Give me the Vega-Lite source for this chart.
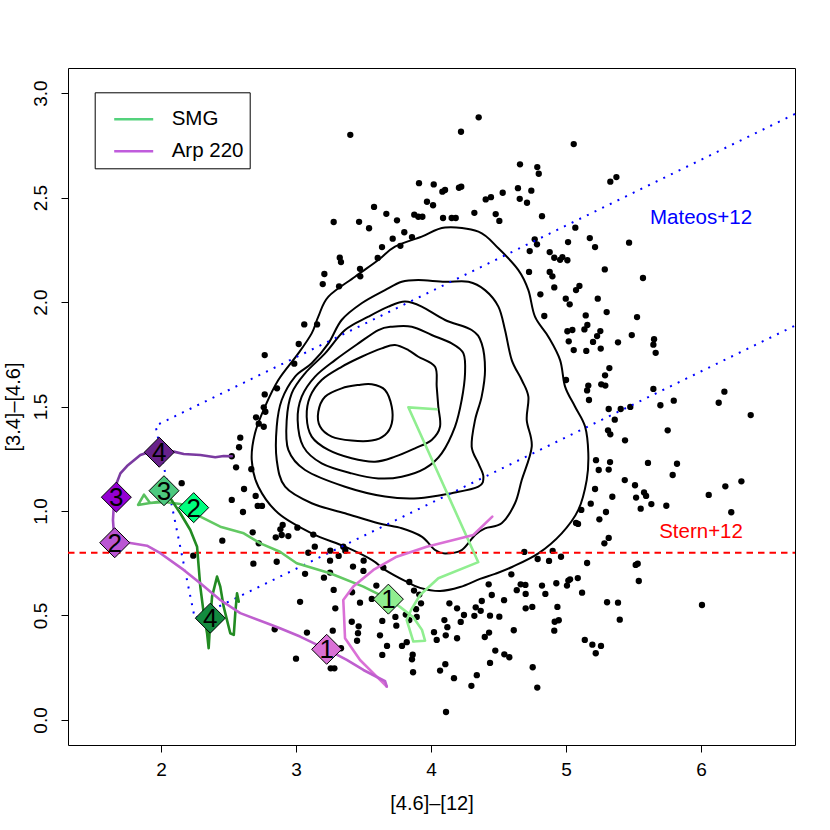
{
"$schema": "https://vega.github.io/schema/vega-lite/v6.json",
"width": 727, "height": 677,
"autosize": {"type": "none"},
"padding": {"left": 68, "top": 68, "right": 35, "bottom": 85},
"background": "white",
"config": {
 "view": {"stroke": "black", "strokeWidth": 1},
 "font": "Liberation Sans",
 "axis": {"domain": false, "grid": false, "tickColor": "black", "tickSize": 7, "tickWidth": 1, "labelColor": "black", "labelFont": "Liberation Sans", "labelFontSize": 19, "titleFont": "Liberation Sans", "titleFontSize": 20, "titleFontWeight": "normal", "titleColor": "black", "labelFlush": false, "labelOverlap": false},
 "legend": {"orient": "none", "legendX": 26.7, "legendY": 24.3, "padding": 6, "strokeColor": "black", "fillColor": "white", "symbolType": "stroke", "symbolSize": 1521, "symbolStrokeWidth": 2.5, "symbolOffset": 12, "labelFontSize": 20.5, "labelColor": "black", "labelFont": "Liberation Sans", "rowPadding": -14, "labelOffset": 17, "cornerRadius": 0}
},
"datasets": {
 "pts": [
{"x":3.402,"y":2.800},{"x":4.222,"y":2.815},{"x":4.353,"y":2.884},{"x":5.057,"y":2.756},{"x":4.659,"y":2.659},{"x":4.787,"y":2.646},{"x":4.798,"y":2.614},{"x":3.911,"y":2.569},{"x":4.020,"y":2.563},{"x":4.084,"y":2.528},{"x":4.104,"y":2.536},{"x":4.207,"y":2.547},{"x":4.224,"y":2.552},{"x":4.644,"y":2.545},{"x":4.743,"y":2.533},{"x":4.531,"y":2.523},{"x":4.405,"y":2.491},{"x":4.444,"y":2.502},{"x":4.657,"y":2.494},{"x":4.711,"y":2.475},{"x":3.970,"y":2.480},{"x":4.015,"y":2.463},{"x":3.578,"y":2.455},{"x":3.669,"y":2.422},{"x":3.876,"y":2.418},{"x":3.906,"y":2.408},{"x":3.936,"y":2.408},{"x":4.089,"y":2.402},{"x":4.153,"y":2.402},{"x":4.183,"y":2.402},{"x":4.321,"y":2.427},{"x":4.479,"y":2.421},{"x":4.506,"y":2.388},{"x":4.822,"y":2.411},{"x":3.748,"y":2.391},{"x":3.467,"y":2.384},{"x":3.279,"y":2.383},{"x":3.541,"y":2.353},{"x":3.802,"y":2.334},{"x":3.859,"y":2.311},{"x":3.716,"y":2.303},{"x":3.773,"y":2.269},{"x":3.637,"y":2.263},{"x":5.069,"y":2.356},{"x":5.176,"y":2.306},{"x":5.215,"y":2.263},{"x":4.768,"y":2.300},{"x":4.785,"y":2.276},{"x":5.015,"y":2.287},{"x":4.731,"y":2.244},{"x":4.879,"y":2.239},{"x":4.913,"y":2.212},{"x":4.973,"y":2.215},{"x":4.956,"y":2.202},{"x":5.010,"y":2.200},{"x":3.324,"y":2.212},{"x":3.333,"y":2.191},{"x":3.605,"y":2.211},{"x":3.474,"y":2.159},{"x":3.476,"y":2.123},{"x":3.210,"y":2.134},{"x":3.198,"y":2.086},{"x":3.319,"y":2.075},{"x":4.726,"y":2.144},{"x":4.879,"y":2.144},{"x":4.899,"y":2.123},{"x":4.913,"y":2.070},{"x":4.810,"y":2.037},{"x":4.998,"y":2.016},{"x":5.099,"y":2.077},{"x":5.074,"y":2.057},{"x":5.235,"y":2.016},
{"x":3.061,"y":1.893},{"x":3.156,"y":1.893},{"x":3.020,"y":1.799},{"x":2.768,"y":1.746},{"x":2.987,"y":1.705},{"x":5.373,"y":2.598},{"x":5.328,"y":2.576},{"x":5.467,"y":2.284},{"x":5.287,"y":2.156},{"x":5.570,"y":2.115},{"x":4.839,"y":1.933},
{"x":5.027,"y":1.989},{"x":5.301,"y":1.952},{"x":5.146,"y":1.936},{"x":5.526,"y":1.928},{"x":5.158,"y":1.890},{"x":5.136,"y":1.869},{"x":5.010,"y":1.860},{"x":5.047,"y":1.866},{"x":5.254,"y":1.861},{"x":5.230,"y":1.837},{"x":5.487,"y":1.842},{"x":5.020,"y":1.812},{"x":5.200,"y":1.809},{"x":5.385,"y":1.807},{"x":5.652,"y":1.822},{"x":5.647,"y":1.796},{"x":5.057,"y":1.770},{"x":5.150,"y":1.766},{"x":5.257,"y":1.777},{"x":5.664,"y":1.757},{"x":5.321,"y":1.684},{"x":5.289,"y":1.649},{"x":5.000,"y":1.627},{"x":5.165,"y":1.600},{"x":5.156,"y":1.577},{"x":5.261,"y":1.606},{"x":5.291,"y":1.600},{"x":5.170,"y":1.531},{"x":5.647,"y":1.584},{"x":6.173,"y":1.571},{"x":6.131,"y":1.518},{"x":5.798,"y":1.528},{"x":5.699,"y":1.506},{"x":5.316,"y":1.488},{"x":5.405,"y":1.488},{"x":5.476,"y":1.498},{"x":5.361,"y":1.437},{"x":6.368,"y":1.459},{"x":5.311,"y":1.386},{"x":5.328,"y":1.367},{"x":5.753,"y":1.386},{"x":5.437,"y":1.338},{"x":5.222,"y":1.243},{"x":5.326,"y":1.234},{"x":5.242,"y":1.196},{"x":5.316,"y":1.198},{"x":5.607,"y":1.230},{"x":5.822,"y":1.226},{"x":5.790,"y":1.172},{"x":5.435,"y":1.148},{"x":5.511,"y":1.123},{"x":6.180,"y":1.118},{"x":6.299,"y":1.142},{"x":6.057,"y":1.077},{"x":5.215,"y":1.105},{"x":5.343,"y":1.068},{"x":5.519,"y":1.064},{"x":5.578,"y":1.089},{"x":5.593,"y":1.072},{"x":5.183,"y":1.035},{"x":5.632,"y":1.033},{"x":5.743,"y":1.025},{"x":5.113,"y":1.005},{"x":5.296,"y":0.995},{"x":5.553,"y":1.011},{"x":6.224,"y":0.994},{"x":5.247,"y":0.960},
{"x":5.074,"y":0.943},{"x":5.089,"y":0.938},{"x":5.316,"y":0.871},{"x":5.284,"y":0.845},{"x":4.901,"y":0.809},{"x":4.691,"y":0.804},{"x":4.790,"y":0.770},{"x":4.874,"y":0.761},{"x":4.963,"y":0.781},{"x":5.156,"y":0.751},{"x":5.516,"y":0.742},{"x":5.531,"y":0.748},{"x":5.539,"y":0.665},{"x":4.595,"y":0.697},{"x":4.427,"y":0.649},{"x":4.664,"y":0.649},{"x":4.699,"y":0.646},{"x":4.635,"y":0.621},{"x":4.701,"y":0.603},{"x":4.822,"y":0.643},{"x":4.847,"y":0.603},{"x":4.928,"y":0.654},{"x":5.017,"y":0.667},{"x":5.030,"y":0.673},{"x":5.007,"y":0.643},{"x":5.087,"y":0.679},{"x":5.119,"y":0.609},{"x":4.450,"y":0.598},{"x":4.376,"y":0.569},{"x":4.541,"y":0.573},{"x":4.368,"y":0.522},{"x":4.437,"y":0.499},{"x":4.506,"y":0.494},{"x":4.701,"y":0.534},{"x":4.750,"y":0.541},{"x":4.936,"y":0.541},{"x":5.304,"y":0.563},{"x":5.385,"y":0.561},{"x":5.398,"y":0.480},{"x":6.007,"y":0.550},{"x":4.916,"y":0.470},{"x":4.946,"y":0.477},{"x":4.913,"y":0.427},{"x":4.613,"y":0.429},{"x":4.430,"y":0.418},{"x":4.398,"y":0.397},{"x":5.139,"y":0.383},{"x":5.195,"y":0.360},{"x":5.259,"y":0.354},{"x":5.220,"y":0.319},{"x":4.476,"y":0.332},{"x":4.543,"y":0.314},{"x":4.580,"y":0.300},{"x":4.437,"y":0.273},{"x":4.753,"y":0.252},{"x":4.787,"y":0.155},
{"x":2.901,"y":0.933},{"x":2.894,"y":0.885},{"x":2.943,"y":0.880},{"x":3.010,"y":0.920},{"x":3.128,"y":0.887},{"x":3.139,"y":0.829},{"x":3.091,"y":0.800},{"x":3.254,"y":0.810},{"x":3.350,"y":0.829},{"x":3.365,"y":0.810},{"x":3.316,"y":0.785},{"x":3.252,"y":0.762},{"x":3.422,"y":0.734},{"x":3.501,"y":0.762},{"x":3.499,"y":0.713},{"x":3.647,"y":0.729},{"x":3.067,"y":0.699},{"x":3.207,"y":0.681},{"x":3.252,"y":0.705},{"x":3.279,"y":0.622},{"x":3.030,"y":0.565},{"x":3.291,"y":0.534},{"x":3.474,"y":0.561},{"x":3.415,"y":0.611},{"x":3.561,"y":0.579},{"x":3.595,"y":0.643},{"x":3.839,"y":0.660},{"x":3.874,"y":0.619},{"x":3.913,"y":0.600},{"x":3.926,"y":0.558},{"x":3.889,"y":0.530},{"x":3.894,"y":0.493},{"x":3.839,"y":0.478},{"x":3.813,"y":0.504},{"x":3.736,"y":0.493},{"x":3.743,"y":0.451},{"x":3.639,"y":0.474},{"x":3.413,"y":0.470},{"x":3.464,"y":0.448},{"x":3.459,"y":0.415},{"x":3.452,"y":0.379},{"x":3.622,"y":0.405},{"x":3.674,"y":0.354},{"x":3.639,"y":0.311},{"x":3.785,"y":0.354},{"x":3.820,"y":0.372},{"x":3.864,"y":0.312},{"x":3.859,"y":0.290},{"x":3.867,"y":0.228},{"x":3.272,"y":0.427},{"x":3.081,"y":0.418},{"x":3.333,"y":0.343},{"x":3.000,"y":0.293},{"x":3.257,"y":0.247},{"x":3.284,"y":0.247},{"x":4.022,"y":0.420},{"x":4.042,"y":0.383},{"x":4.099,"y":0.478},{"x":4.109,"y":0.405},{"x":4.121,"y":0.444},{"x":4.193,"y":0.391},{"x":4.136,"y":0.558},{"x":4.193,"y":0.534},{"x":4.244,"y":0.502},{"x":4.220,"y":0.469},{"x":4.321,"y":0.498},{"x":4.331,"y":0.539},{"x":4.339,"y":0.214},{"x":4.299,"y":0.163},{"x":4.170,"y":0.200},{"x":4.106,"y":0.267},{"x":4.067,"y":0.236},{"x":4.111,"y":0.038},
{"x":2.768,"y":1.558},{"x":2.859,"y":1.587},{"x":2.761,"y":1.496},{"x":2.773,"y":1.475},{"x":2.704,"y":1.448},{"x":2.724,"y":1.418},{"x":2.761,"y":1.403},{"x":2.587,"y":1.351},{"x":2.578,"y":1.305},{"x":2.524,"y":1.262},{"x":2.556,"y":1.209},{"x":2.669,"y":1.200},{"x":2.153,"y":1.133},{"x":2.615,"y":1.105},{"x":2.701,"y":1.072},{"x":2.524,"y":1.053},{"x":2.716,"y":1.024},{"x":2.748,"y":1.024},{"x":2.607,"y":0.995},{"x":2.884,"y":0.912},{"x":2.679,"y":0.898},{"x":2.850,"y":0.874},{"x":2.454,"y":0.858},{"x":2.724,"y":0.845},{"x":2.239,"y":0.786},{"x":2.684,"y":0.748},{"x":2.857,"y":0.757},{"x":2.842,"y":0.434}
 ],
 "contours": [
{"c":1,"i":0,"x":4.104,"y":2.357},{"c":1,"i":1,"x":4.351,"y":2.337},{"c":1,"i":2,"x":4.499,"y":2.257},{"c":1,"i":3,"x":4.647,"y":2.153},{"c":1,"i":4,"x":4.721,"y":2.057},{"c":1,"i":5,"x":4.770,"y":1.930},{"c":1,"i":6,"x":4.869,"y":1.834},{"c":1,"i":7,"x":4.956,"y":1.722},{"c":1,"i":8,"x":4.993,"y":1.595},{"c":1,"i":9,"x":5.067,"y":1.499},{"c":1,"i":10,"x":5.141,"y":1.404},{"c":1,"i":11,"x":5.165,"y":1.276},{"c":1,"i":12,"x":5.153,"y":1.148},{"c":1,"i":13,"x":5.091,"y":1.005},{"c":1,"i":14,"x":4.968,"y":0.893},{"c":1,"i":15,"x":4.795,"y":0.797},{"c":1,"i":16,"x":4.600,"y":0.732},{"c":1,"i":17,"x":4.474,"y":0.699},{"c":1,"i":18,"x":4.363,"y":0.675},{"c":1,"i":19,"x":4.215,"y":0.636},{"c":1,"i":20,"x":4.067,"y":0.617},{"c":1,"i":21,"x":3.919,"y":0.632},{"c":1,"i":22,"x":3.807,"y":0.665},{"c":1,"i":23,"x":3.659,"y":0.718},{"c":1,"i":24,"x":3.561,"y":0.766},{"c":1,"i":25,"x":3.363,"y":0.829},{"c":1,"i":26,"x":3.116,"y":0.893},{"c":1,"i":27,"x":2.869,"y":0.989},{"c":1,"i":28,"x":2.721,"y":1.116},{"c":1,"i":29,"x":2.672,"y":1.244},{"c":1,"i":30,"x":2.696,"y":1.372},{"c":1,"i":31,"x":2.770,"y":1.499},{"c":1,"i":32,"x":2.869,"y":1.627},{"c":1,"i":33,"x":3.017,"y":1.754},{"c":1,"i":34,"x":3.116,"y":1.850},{"c":1,"i":35,"x":3.165,"y":1.930},{"c":1,"i":36,"x":3.240,"y":2.026},{"c":1,"i":37,"x":3.437,"y":2.121},{"c":1,"i":38,"x":3.610,"y":2.201},{"c":1,"i":39,"x":3.733,"y":2.265},{"c":1,"i":40,"x":3.931,"y":2.313},
{"c":2,"i":0,"x":3.783,"y":2.097},{"c":2,"i":1,"x":3.906,"y":2.105},{"c":2,"i":2,"x":4.104,"y":2.097},{"c":2,"i":3,"x":4.277,"y":2.097},{"c":2,"i":4,"x":4.400,"y":2.057},{"c":2,"i":5,"x":4.499,"y":1.978},{"c":2,"i":6,"x":4.548,"y":1.866},{"c":2,"i":7,"x":4.598,"y":1.722},{"c":2,"i":8,"x":4.672,"y":1.627},{"c":2,"i":9,"x":4.721,"y":1.547},{"c":2,"i":10,"x":4.709,"y":1.435},{"c":2,"i":11,"x":4.746,"y":1.308},{"c":2,"i":12,"x":4.672,"y":1.148},{"c":2,"i":13,"x":4.622,"y":1.037},{"c":2,"i":14,"x":4.523,"y":0.941},{"c":2,"i":15,"x":4.400,"y":0.917},{"c":2,"i":16,"x":4.326,"y":0.885},{"c":2,"i":17,"x":4.227,"y":0.813},{"c":2,"i":18,"x":4.104,"y":0.797},{"c":2,"i":19,"x":4.030,"y":0.813},{"c":2,"i":20,"x":3.931,"y":0.877},{"c":2,"i":21,"x":3.783,"y":0.917},{"c":2,"i":22,"x":3.610,"y":0.941},{"c":2,"i":23,"x":3.363,"y":0.989},{"c":2,"i":24,"x":3.116,"y":1.037},{"c":2,"i":25,"x":2.919,"y":1.116},{"c":2,"i":26,"x":2.857,"y":1.244},{"c":2,"i":27,"x":2.857,"y":1.404},{"c":2,"i":28,"x":2.894,"y":1.531},{"c":2,"i":29,"x":2.993,"y":1.643},{"c":2,"i":30,"x":3.116,"y":1.707},{"c":2,"i":31,"x":3.240,"y":1.802},{"c":2,"i":32,"x":3.338,"y":1.914},{"c":2,"i":33,"x":3.486,"y":1.994},{"c":2,"i":34,"x":3.659,"y":2.057},
{"c":3,"i":0,"x":3.807,"y":2.002},{"c":3,"i":1,"x":3.931,"y":1.978},{"c":3,"i":2,"x":4.104,"y":1.914},{"c":3,"i":3,"x":4.301,"y":1.866},{"c":3,"i":4,"x":4.375,"y":1.802},{"c":3,"i":5,"x":4.400,"y":1.675},{"c":3,"i":6,"x":4.375,"y":1.547},{"c":3,"i":7,"x":4.326,"y":1.435},{"c":3,"i":8,"x":4.301,"y":1.308},{"c":3,"i":9,"x":4.351,"y":1.228},{"c":3,"i":10,"x":4.388,"y":1.164},{"c":3,"i":11,"x":4.351,"y":1.116},{"c":3,"i":12,"x":4.153,"y":1.085},{"c":3,"i":13,"x":3.906,"y":1.061},{"c":3,"i":14,"x":3.659,"y":1.069},{"c":3,"i":15,"x":3.363,"y":1.116},{"c":3,"i":16,"x":3.067,"y":1.196},{"c":3,"i":17,"x":2.943,"y":1.292},{"c":3,"i":18,"x":2.931,"y":1.435},{"c":3,"i":19,"x":2.968,"y":1.563},{"c":3,"i":20,"x":3.067,"y":1.659},{"c":3,"i":21,"x":3.215,"y":1.754},{"c":3,"i":22,"x":3.363,"y":1.866},{"c":3,"i":23,"x":3.536,"y":1.930},{"c":3,"i":24,"x":3.684,"y":1.978},
{"c":4,"i":0,"x":3.709,"y":1.882},{"c":4,"i":1,"x":3.857,"y":1.882},{"c":4,"i":2,"x":4.005,"y":1.842},{"c":4,"i":3,"x":4.153,"y":1.802},{"c":4,"i":4,"x":4.240,"y":1.754},{"c":4,"i":5,"x":4.252,"y":1.659},{"c":4,"i":6,"x":4.227,"y":1.531},{"c":4,"i":7,"x":4.178,"y":1.404},{"c":4,"i":8,"x":4.079,"y":1.276},{"c":4,"i":9,"x":3.956,"y":1.204},{"c":4,"i":10,"x":3.783,"y":1.164},{"c":4,"i":11,"x":3.610,"y":1.156},{"c":4,"i":12,"x":3.412,"y":1.180},{"c":4,"i":13,"x":3.190,"y":1.228},{"c":4,"i":14,"x":3.054,"y":1.308},{"c":4,"i":15,"x":3.012,"y":1.435},{"c":4,"i":16,"x":3.042,"y":1.547},{"c":4,"i":17,"x":3.141,"y":1.643},{"c":4,"i":18,"x":3.289,"y":1.722},{"c":4,"i":19,"x":3.462,"y":1.802},{"c":4,"i":20,"x":3.610,"y":1.866},
{"c":5,"i":0,"x":3.733,"y":1.794},{"c":5,"i":1,"x":3.832,"y":1.770},{"c":5,"i":2,"x":3.906,"y":1.738},{"c":5,"i":3,"x":4.030,"y":1.690},{"c":5,"i":4,"x":4.042,"y":1.595},{"c":5,"i":5,"x":4.054,"y":1.499},{"c":5,"i":6,"x":4.067,"y":1.404},{"c":5,"i":7,"x":4.005,"y":1.340},{"c":5,"i":8,"x":3.881,"y":1.300},{"c":5,"i":9,"x":3.733,"y":1.260},{"c":5,"i":10,"x":3.585,"y":1.236},{"c":5,"i":11,"x":3.412,"y":1.252},{"c":5,"i":12,"x":3.240,"y":1.292},{"c":5,"i":13,"x":3.116,"y":1.356},{"c":5,"i":14,"x":3.079,"y":1.451},{"c":5,"i":15,"x":3.104,"y":1.547},{"c":5,"i":16,"x":3.190,"y":1.627},{"c":5,"i":17,"x":3.338,"y":1.690},{"c":5,"i":18,"x":3.486,"y":1.738},{"c":5,"i":19,"x":3.635,"y":1.778},
{"c":6,"i":0,"x":3.561,"y":1.606},{"c":6,"i":1,"x":3.659,"y":1.579},{"c":6,"i":2,"x":3.709,"y":1.499},{"c":6,"i":3,"x":3.709,"y":1.419},{"c":6,"i":4,"x":3.659,"y":1.364},{"c":6,"i":5,"x":3.561,"y":1.337},{"c":6,"i":6,"x":3.412,"y":1.337},{"c":6,"i":7,"x":3.264,"y":1.356},{"c":6,"i":8,"x":3.178,"y":1.404},{"c":6,"i":9,"x":3.165,"y":1.475},{"c":6,"i":10,"x":3.215,"y":1.547},{"c":6,"i":11,"x":3.338,"y":1.587},{"c":6,"i":12,"x":3.462,"y":1.603}
 ],
 "mateos": [
{"i":0,"x":6.696,"y":2.900},{"i":1,"x":1.9596,"y":1.408},{"i":2,"x":2.250,"y":0.487},{"i":3,"x":6.696,"y":1.887}
 ],
 "stern": [{"x":1.311,"y":0.8},{"x":6.696,"y":0.8}],
 "tracks": [
{"seg":"SMG-a","i":0,"x":4.042,"y":1.487},{"seg":"SMG-a","i":1,"x":3.832,"y":1.496},{"seg":"SMG-a","i":2,"x":4.350,"y":0.755},{"seg":"SMG-a","i":3,"x":4.054,"y":0.678},{"seg":"SMG-a","i":4,"x":3.919,"y":0.598},{"seg":"SMG-a","i":5,"x":3.852,"y":0.526},{"seg":"SMG-a","i":6,"x":3.820,"y":0.478},{"seg":"SMG-a","i":7,"x":3.869,"y":0.375},{"seg":"SMG-a","i":8,"x":3.956,"y":0.379},{"seg":"SMG-a","i":9,"x":3.933,"y":0.431},{"seg":"SMG-a","i":10,"x":3.867,"y":0.493},{"seg":"SMG-a","i":11,"x":3.770,"y":0.541},{"seg":"SMG-a","i":12,"x":3.684,"y":0.578},
{"seg":"SMG-b","i":0,"x":3.684,"y":0.578},{"seg":"SMG-b","i":1,"x":3.499,"y":0.638},{"seg":"SMG-b","i":2,"x":3.252,"y":0.702},{"seg":"SMG-b","i":3,"x":3.005,"y":0.750},{"seg":"SMG-b","i":4,"x":2.881,"y":0.805},{"seg":"SMG-b","i":5,"x":2.736,"y":0.845},{"seg":"SMG-b","i":6,"x":2.613,"y":0.893},{"seg":"SMG-b","i":7,"x":2.439,"y":0.925},{"seg":"SMG-b","i":8,"x":2.291,"y":0.973},{"seg":"SMG-b","i":9,"x":2.242,"y":1.016},
{"seg":"SMG-c","i":0,"x":2.242,"y":1.016},{"seg":"SMG-c","i":1,"x":2.141,"y":1.033},{"seg":"SMG-c","i":2,"x":2.030,"y":1.043},{"seg":"SMG-c","i":3,"x":1.919,"y":1.038},{"seg":"SMG-c","i":4,"x":1.830,"y":1.029},{"seg":"SMG-c","i":5,"x":1.874,"y":1.078},{"seg":"SMG-c","i":6,"x":1.919,"y":1.038},{"seg":"SMG-c","i":7,"x":2.022,"y":1.048},{"seg":"SMG-c","i":8,"x":2.069,"y":1.061},
{"seg":"SMG-d","i":0,"x":2.069,"y":1.061},{"seg":"SMG-d","i":1,"x":2.143,"y":0.989},{"seg":"SMG-d","i":2,"x":2.217,"y":0.909},{"seg":"SMG-d","i":3,"x":2.267,"y":0.829},{"seg":"SMG-d","i":4,"x":2.279,"y":0.733},{"seg":"SMG-d","i":5,"x":2.291,"y":0.638},{"seg":"SMG-d","i":6,"x":2.316,"y":0.511},{"seg":"SMG-d","i":7,"x":2.341,"y":0.415},{"seg":"SMG-d","i":8,"x":2.353,"y":0.343},{"seg":"SMG-d","i":9,"x":2.365,"y":0.478},{"seg":"SMG-d","i":10,"x":2.378,"y":0.590},{"seg":"SMG-d","i":11,"x":2.415,"y":0.686},{"seg":"SMG-d","i":12,"x":2.439,"y":0.638},{"seg":"SMG-d","i":13,"x":2.464,"y":0.542},{"seg":"SMG-d","i":14,"x":2.513,"y":0.415},{"seg":"SMG-d","i":15,"x":2.539,"y":0.407},{"seg":"SMG-d","i":16,"x":2.550,"y":0.511},{"seg":"SMG-d","i":17,"x":2.563,"y":0.606},{"seg":"SMG-d","i":18,"x":2.576,"y":0.566},
{"seg":"Arp-a","i":0,"x":4.454,"y":0.973},{"seg":"Arp-a","i":1,"x":4.313,"y":0.885},{"seg":"Arp-a","i":2,"x":3.968,"y":0.829},{"seg":"Arp-a","i":3,"x":3.746,"y":0.781},{"seg":"Arp-a","i":4,"x":3.573,"y":0.718},{"seg":"Arp-a","i":5,"x":3.424,"y":0.638},{"seg":"Arp-a","i":6,"x":3.350,"y":0.574},{"seg":"Arp-a","i":7,"x":3.356,"y":0.494},{"seg":"Arp-a","i":8,"x":3.363,"y":0.391},{"seg":"Arp-a","i":9,"x":3.474,"y":0.287},{"seg":"Arp-a","i":10,"x":3.598,"y":0.207},{"seg":"Arp-a","i":11,"x":3.672,"y":0.160},
{"seg":"Arp-b","i":0,"x":3.672,"y":0.160},{"seg":"Arp-b","i":1,"x":3.660,"y":0.185},{"seg":"Arp-b","i":2,"x":3.499,"y":0.239},{"seg":"Arp-b","i":3,"x":3.376,"y":0.287},{"seg":"Arp-b","i":4,"x":3.227,"y":0.338},{"seg":"Arp-b","i":5,"x":3.030,"y":0.399},{"seg":"Arp-b","i":6,"x":2.881,"y":0.439},{"seg":"Arp-b","i":7,"x":2.785,"y":0.463},{"seg":"Arp-b","i":8,"x":2.587,"y":0.511},{"seg":"Arp-b","i":9,"x":2.439,"y":0.574},{"seg":"Arp-b","i":10,"x":2.291,"y":0.654},{"seg":"Arp-b","i":11,"x":2.168,"y":0.718},{"seg":"Arp-b","i":12,"x":1.995,"y":0.798},{"seg":"Arp-b","i":13,"x":1.896,"y":0.834},{"seg":"Arp-b","i":14,"x":1.761,"y":0.848},{"seg":"Arp-b","i":15,"x":1.657,"y":0.848},
{"seg":"Arp-c","i":0,"x":1.657,"y":0.848},{"seg":"Arp-c","i":1,"x":1.650,"y":0.901},{"seg":"Arp-c","i":2,"x":1.644,"y":0.957},{"seg":"Arp-c","i":3,"x":1.650,"y":1.021},{"seg":"Arp-c","i":4,"x":1.669,"y":1.066},
{"seg":"Arp-d","i":0,"x":1.669,"y":1.066},{"seg":"Arp-d","i":1,"x":1.661,"y":1.116},{"seg":"Arp-d","i":2,"x":1.699,"y":1.180},{"seg":"Arp-d","i":3,"x":1.748,"y":1.215},{"seg":"Arp-d","i":4,"x":1.847,"y":1.268},{"seg":"Arp-d","i":5,"x":1.896,"y":1.279},{"seg":"Arp-d","i":6,"x":1.987,"y":1.281},{"seg":"Arp-d","i":7,"x":2.094,"y":1.284},{"seg":"Arp-d","i":8,"x":2.168,"y":1.273},{"seg":"Arp-d","i":9,"x":2.291,"y":1.268},{"seg":"Arp-d","i":10,"x":2.402,"y":1.257},{"seg":"Arp-d","i":11,"x":2.464,"y":1.263},{"seg":"Arp-d","i":12,"x":2.524,"y":1.262}
 ],
 "diamonds": [
{"id":"S1","lab":"1","x":3.684,"y":0.578},{"id":"S2","lab":"2","x":2.242,"y":1.016},{"id":"S3","lab":"3","x":2.022,"y":1.097},{"id":"S4","lab":"4","x":2.365,"y":0.487},
{"id":"A1","lab":"1","x":3.227,"y":0.338},{"id":"A2","lab":"2","x":1.657,"y":0.848},{"id":"A3","lab":"3","x":1.669,"y":1.066},{"id":"A4","lab":"4","x":1.987,"y":1.281}
 ]
},
"encoding": {
 "x": {"field": "x", "type": "quantitative", "scale": {"domain": [1.311, 6.696], "nice": false, "zero": false},
  "axis": {"values": [2,3,4,5,6], "format": "d", "title": "[4.6]–[12]", "labelBaseline": "alphabetic", "labelPadding": 23, "titleBaseline": "alphabetic", "titleY": 64}},
 "y": {"field": "y", "type": "quantitative", "scale": {"domain": [-0.12, 3.12], "nice": false, "zero": false},
  "axis": {"values": [0,0.5,1,1.5,2,2.5,3], "format": ".1f", "title": "[3.4]–[4.6]", "labelAngle": -90, "labelAlign": "center", "labelBaseline": "alphabetic", "labelPadding": 15, "titleAngle": -90, "titleAlign": "center", "titleBaseline": "alphabetic", "titleX": -49, "titleY": 338.5}}
},
"layer": [
 {"data": {"name": "pts"}, "mark": {"type": "circle", "size": 40, "color": "black", "opacity": 1}},
 {"data": {"name": "contours"}, "mark": {"type": "line", "color": "black", "strokeWidth": 2, "interpolate": "cardinal-closed"},
  "encoding": {"detail": {"field": "c", "type": "nominal"}, "order": {"field": "i", "type": "quantitative"}}},
 {"data": {"name": "mateos"}, "mark": {"type": "line", "color": "#0000FF", "strokeWidth": 2, "strokeDash": [2, 6.5]},
  "encoding": {"order": {"field": "i", "type": "quantitative"}}},
 {"data": {"name": "stern"}, "mark": {"type": "line", "color": "#FF0000", "strokeWidth": 2, "strokeDash": [6.5, 5]}, "encoding": {}},
 {"data": {"name": "tracks"}, "mark": {"type": "line", "strokeWidth": 2.6, "strokeJoin": "round", "strokeCap": "round"},
  "encoding": {
   "color": {"field": "seg", "type": "nominal",
    "scale": {"domain": ["SMG-a","SMG-b","SMG-c","SMG-d","Arp-a","Arp-b","Arp-c","Arp-d","SMG","Arp 220"],
              "range": ["#90EE90","#63C963","#58C05E","#228B22","#DA70D6","#BF5FCF","#A04CC0","#7A3AA0","#54D27C","#C05CDC"]},
    "legend": {"values": ["SMG","Arp 220"], "title": null}},
   "order": {"field": "i", "type": "quantitative"}}},
 {"data": {"name": "diamonds"}, "mark": {"type": "point", "shape": "diamond", "filled": true, "size": 900, "stroke": "black", "strokeWidth": 1, "opacity": 1},
  "encoding": {"fill": {"field": "id", "type": "nominal", "legend": null,
    "scale": {"domain": ["S1","S2","S3","S4","A1","A2","A3","A4"], "range": ["#90EE90","#00FF7F","#4DC97F","#138A3F","#DA70D6","#BA55D3","#9400D3","#68228B"]}}}},
 {"data": {"name": "diamonds"}, "mark": {"type": "text", "fontSize": 26, "font": "Liberation Sans", "color": "black", "align": "center", "baseline": "middle", "dy": 1},
  "encoding": {"text": {"field": "lab", "type": "nominal"}}},
 {"data": {"values": [{"label": "Mateos+12", "x": 6.0, "y": 2.4}]}, "mark": {"type": "text", "fontSize": 20.5, "font": "Liberation Sans", "color": "#0000FF", "align": "center", "baseline": "middle"},
  "encoding": {"text": {"field": "label", "type": "nominal"}}},
 {"data": {"values": [{"label": "Stern+12", "x": 6.0, "y": 0.9}]}, "mark": {"type": "text", "fontSize": 20.5, "font": "Liberation Sans", "color": "#FF0000", "align": "center", "baseline": "middle"},
  "encoding": {"text": {"field": "label", "type": "nominal"}}}
]
}
